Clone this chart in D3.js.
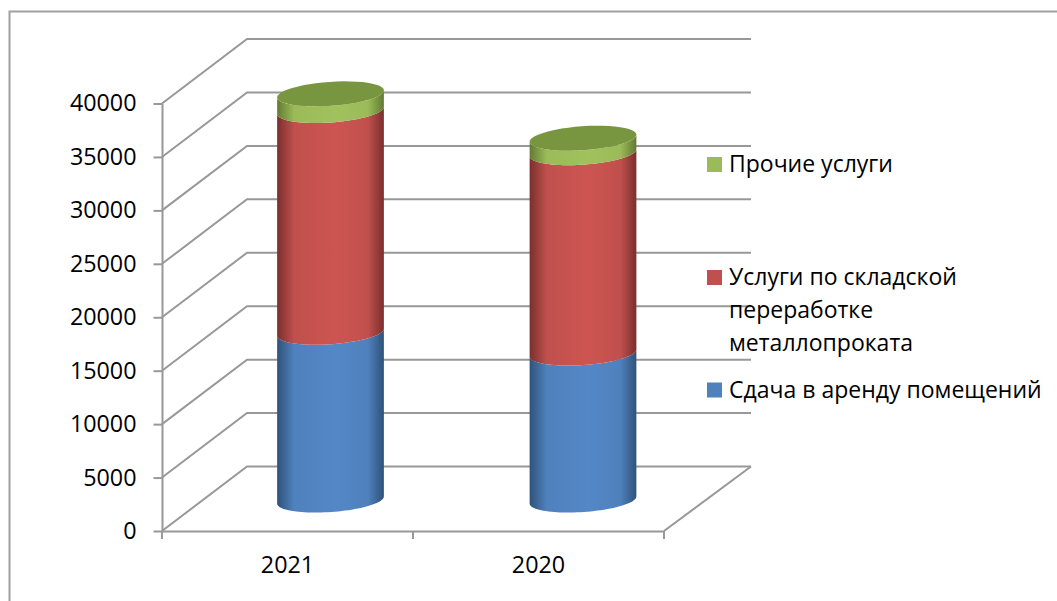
<!DOCTYPE html>
<html>
<head>
<meta charset="utf-8">
<script src="https://d3js.org/d3.v7.min.js"></script>
<style>
  body { margin: 0; background: #fff; }
  text { font-family: "Open Sans", sans-serif; fill: #000; }
</style>
</head>
<body>
<div class="canvas"></div>
<script>
// chart values
const categories = ['2021', '2020'];
const rentValues = [15700, 13750];
const storageValues = [20750, 18750];
const otherValues = [1550, 1350];
const yTicks = [0, 5000, 10000, 15000, 20000, 25000, 30000, 35000, 40000];
const legendLines = [['Прочие услуги'], ['Услуги по складской', 'переработке', 'металлопроката'], ['Сдача в аренду помещений']];

const width = 1057, height = 601;
const margin = { left: 162, right: 393, top: 103.5, bottom: 70 };
const depth = { x: 85, y: -64.5 }; // how far the back wall is pushed from the front axes
const axisColor = '#989898';

const svg = d3.select('.canvas').append('svg')
  .attr('width', width)
  .attr('height', height)
  .style('display', 'block');

// scales
const x = d3.scaleBand().domain(categories).range([margin.left, width - margin.right]);
const y = d3.scaleLinear().domain([0, 40000]).range([height - margin.bottom, margin.top]);
// cylinders stand mid depth, and they spread slightly wider than the axis bands
const barX = d3.scalePoint().domain(categories).range([330.5, 583]);

// outer frame of the chart, only the left and top sides show
svg.append('polyline')
  .attr('points', [[9.5, height], [9.5, 11.5], [width, 11.5]].join(' '))
  .attr('fill', 'none')
  .attr('stroke', '#a0a0a0')
  .attr('stroke-width', 2);

// grid: back wall lines, side wall diagonals, and the floor
const grid = svg.append('g').attr('fill', 'none').attr('stroke', axisColor).attr('stroke-width', 2);
yTicks.forEach(t => {
  grid.append('polyline')
    .attr('points', [
      [margin.left, y(t)],
      [margin.left + depth.x, y(t) + depth.y],
      [width - margin.right + depth.x + 2, y(t) + depth.y]
    ].join(' '));
});
grid.append('line') // floor right edge
  .attr('x1', width - margin.right)
  .attr('y1', y(0))
  .attr('x2', width - margin.right + depth.x + 2)
  .attr('y2', y(0) + depth.y);

// axes
const yAxis = d3.axisLeft(y).tickValues(yTicks).tickSize(8.5).tickSizeOuter(0).tickPadding(17).tickFormat(d3.format('d'));
const yAxisGroup = svg.append('g').attr('transform', `translate(${margin.left},0)`).call(yAxis);

const xAxis = d3.axisBottom(x).tickSize(0).tickPadding(25);
const xAxisGroup = svg.append('g').attr('transform', `translate(0,${y(0)})`).call(xAxis);

// ticks on the x axis sit between the categories, not under them
const xEdges = [x.range()[0], x(categories[1]), x.range()[1]];
xAxisGroup.selectAll('.edge').data(xEdges).enter().append('line')
  .attr('class', 'edge')
  .attr('x1', d => d).attr('x2', d => d)
  .attr('y1', 0).attr('y2', 8)
  .attr('stroke', axisColor).attr('stroke-width', 2);

[yAxisGroup, xAxisGroup].forEach(g => {
  g.selectAll('path,line').attr('stroke', axisColor).attr('stroke-width', 2);
  g.selectAll('text').attr('font-size', 23.3).attr('fill', '#000').style('font-family', '"Open Sans", sans-serif');
});

// cylinder gradients: dark on the edges, lightest a bit right of the middle
const palette = [
  { base: '#4f81bd', dark: '#2f5279', light: '#5487c6', top: '#4f81bd' },
  { base: '#c0504d', dark: '#7a2f2d', light: '#cd5551', top: '#c0504d' },
  { base: '#9bbb59', dark: '#637a33', light: '#a0c15c', top: '#78953f' }
];
const defs = svg.append('defs');
palette.forEach((p, i) => {
  const g = defs.append('linearGradient').attr('id', 'cyl' + i);
  [[0, p.dark], [0.16, p.base], [0.55, p.light], [0.85, p.base], [1, p.dark]].forEach(s => {
    g.append('stop').attr('offset', s[0]).attr('stop-color', s[1]);
  });
});

// ellipse geometry for the cylinders
const rx = 53.5, ry = 12, tilt = -4 * Math.PI / 180;
const ellipsePoint = (cx, cy, a) => [
  cx + rx * Math.cos(a) * Math.cos(tilt) - ry * Math.sin(a) * Math.sin(tilt),
  cy + rx * Math.cos(a) * Math.sin(tilt) + ry * Math.sin(a) * Math.cos(tilt)
];
const arcPoints = (cx, cy, from, to) => d3.range(0, 49).map(k => ellipsePoint(cx, cy, from + (to - from) * k / 48));
const line = d3.line();

const bars = svg.append('g');
categories.forEach((c, i) => {
  const cx = barX(c);
  const stack = [rentValues[i], storageValues[i], otherValues[i]];
  let sum = 0;
  stack.forEach((v, s) => {
    const y0 = y(sum) + depth.y / 2 + 1.25;
    const y1 = y(sum + v) + depth.y / 2 + 1.25;
    sum += v;
    // side: front arc of the lower end, then the front arc of the upper end going back
    const lower = arcPoints(cx, y0, 0, Math.PI);
    const upper = arcPoints(cx, y1, Math.PI, 0);
    bars.append('path')
      .attr('d', line(lower.concat(upper)) + 'Z')
      .attr('fill', `url(#cyl${s})`);
    if (s === stack.length - 1) {
      bars.append('path')
        .attr('d', line(arcPoints(cx, y1, 0, 2 * Math.PI)) + 'Z')
        .attr('fill', palette[s].top);
    }
  });
});

// legend
const legendMid = [164.5, 277.5, 390];
const legendSwatch = [palette[2].base, palette[1].base, palette[0].base];
const legend = svg.append('g');
legendLines.forEach((lines, i) => {
  legend.append('rect')
    .attr('x', 707).attr('y', legendMid[i] - 7.5)
    .attr('width', 15).attr('height', 15)
    .attr('fill', legendSwatch[i]);
  lines.forEach((txt, k) => {
    legend.append('text')
      .attr('x', 729)
      .attr('y', legendMid[i] + 7.5 + k * 33)
      .attr('font-size', 23)
      .text(txt);
  });
});
</script>
</body>
</html>
